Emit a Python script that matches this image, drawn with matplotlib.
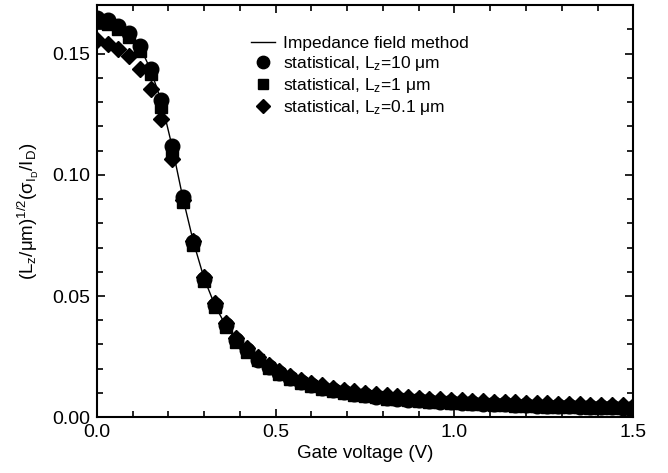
import matplotlib
matplotlib.use("Agg")
import matplotlib.pyplot as plt
from matplotlib.ticker import MultipleLocator

plt.rcParams['font.family'] = ['Liberation Sans', 'DejaVu Sans']
plt.rcParams['mathtext.fontset'] = 'custom'
plt.rcParams['mathtext.rm'] = 'Liberation Sans'
plt.rcParams['mathtext.it'] = 'Liberation Sans'
plt.rcParams['mathtext.sf'] = 'Liberation Sans'

# gate voltage grid (V)
vg = [0.00, 0.03, 0.06, 0.09, 0.12, 0.15, 0.18, 0.21, 0.24, 0.27,
      0.30, 0.33, 0.36, 0.39, 0.42, 0.45, 0.48, 0.51, 0.54, 0.57,
      0.60, 0.63, 0.66, 0.69, 0.72, 0.75, 0.78, 0.81, 0.84, 0.87,
      0.90, 0.93, 0.96, 0.99, 1.02, 1.05, 1.08, 1.11, 1.14, 1.17,
      1.20, 1.23, 1.26, 1.29, 1.32, 1.35, 1.38, 1.41, 1.44, 1.47, 1.50]

# impedance field method
ifm = [0.1645, 0.1636, 0.1614, 0.1583, 0.1530, 0.1435, 0.1305, 0.1120, 0.0908, 0.0723,
       0.0572, 0.0462, 0.0379, 0.0317, 0.0276, 0.0238, 0.0207, 0.0182, 0.0162, 0.0146,
       0.0132, 0.0121, 0.0111, 0.0103, 0.0096, 0.0090, 0.0085, 0.0080, 0.0076, 0.0072,
       0.0069, 0.0066, 0.0064, 0.0062, 0.0060, 0.0058, 0.0056, 0.0054, 0.0053, 0.0051,
       0.0050, 0.0048, 0.0047, 0.0046, 0.0045, 0.0043, 0.0042, 0.0041, 0.0040, 0.0039, 0.0038]

# statistical, Lz = 10 um (circles)
lz10 = [0.1648, 0.1639, 0.1616, 0.1586, 0.1533, 0.1437, 0.1307, 0.1121, 0.0908, 0.0723,
        0.0572, 0.0462, 0.0379, 0.0317, 0.0276, 0.0238, 0.0207, 0.0182, 0.0162, 0.0146,
        0.0132, 0.0121, 0.0111, 0.0103, 0.0096, 0.0090, 0.0085, 0.0080, 0.0076, 0.0072,
        0.0069, 0.0066, 0.0064, 0.0062, 0.0060, 0.0058, 0.0056, 0.0054, 0.0053, 0.0051,
        0.0050, 0.0048, 0.0047, 0.0046, 0.0045, 0.0043, 0.0042, 0.0041, 0.0040, 0.0039, 0.0038]

# statistical, Lz = 1 um (squares)
lz1 = [0.1630, 0.1622, 0.1600, 0.1568, 0.1512, 0.1415, 0.1280, 0.1095, 0.0890, 0.0710,
       0.0562, 0.0455, 0.0372, 0.0312, 0.0271, 0.0234, 0.0204, 0.0179, 0.0159, 0.0143,
       0.0129, 0.0118, 0.0108, 0.0100, 0.0093, 0.0087, 0.0082, 0.0077, 0.0073, 0.0069,
       0.0066, 0.0063, 0.0061, 0.0059, 0.0057, 0.0055, 0.0053, 0.0051, 0.0050, 0.0048,
       0.0047, 0.0045, 0.0044, 0.0043, 0.0042, 0.0040, 0.0039, 0.0038, 0.0037, 0.0036, 0.0035]

# statistical, Lz = 0.1 um (diamonds)
lz01 = [0.1557, 0.1540, 0.1520, 0.1492, 0.1437, 0.1355, 0.1231, 0.1066, 0.0895, 0.0725,
        0.0580, 0.0472, 0.0390, 0.0328, 0.0285, 0.0248, 0.0217, 0.0192, 0.0172, 0.0155,
        0.0142, 0.0131, 0.0121, 0.0113, 0.0106, 0.0100, 0.0095, 0.0090, 0.0086, 0.0082,
        0.0079, 0.0076, 0.0074, 0.0072, 0.0070, 0.0068, 0.0066, 0.0064, 0.0063, 0.0061,
        0.0060, 0.0058, 0.0057, 0.0056, 0.0055, 0.0053, 0.0052, 0.0051, 0.0050, 0.0049, 0.0048]

fig = plt.figure(figsize=(6.68, 4.73), dpi=100)
ax = fig.add_axes([0.145, 0.118, 0.803, 0.871])

ax.plot(vg, ifm, '-', color='black', lw=1.0, label='Impedance field method', zorder=2)
ax.plot(vg, lz1, 's', color='black', ms=9, zorder=3, label='statistical, L$_z$=1 μm')
ax.plot(vg, lz10, 'o', color='black', ms=10.5, zorder=4, label='statistical, L$_z$=10 μm')
ax.plot(vg, lz01, 'D', color='black', ms=8.5, zorder=5, label='statistical, L$_z$=0.1 μm')

ax.set_xlim(0, 1.5)
ax.set_ylim(0, 0.17)
ax.xaxis.set_major_locator(MultipleLocator(0.5))
ax.xaxis.set_minor_locator(MultipleLocator(0.1))
ax.yaxis.set_major_locator(MultipleLocator(0.05))
ax.yaxis.set_minor_locator(MultipleLocator(0.01))
ax.xaxis.set_major_formatter(matplotlib.ticker.FormatStrFormatter('%.1f'))
ax.yaxis.set_major_formatter(matplotlib.ticker.FormatStrFormatter('%.2f'))
ax.tick_params(which='both', direction='in', top=True, right=True, labelsize=14, width=1.2)
ax.tick_params(which='major', length=6, pad=5)
ax.tick_params(which='minor', length=4)
for s in ax.spines.values():
    s.set_linewidth(1.5)

ax.set_xlabel('Gate voltage (V)', fontsize=13.5, labelpad=3)
ax.set_ylabel(r'(L$_z$/$\mu$m)$^{1/2}$($\sigma_{\mathrm{I_D}}$/I$_\mathrm{D}$)', fontsize=13.5, labelpad=8)

handles, labels = ax.get_legend_handles_labels()
order = [0, 2, 1, 3]
leg = ax.legend([handles[i] for i in order], [labels[i] for i in order],
                loc='upper left', bbox_to_anchor=(0.265, 0.955), frameon=False,
                fontsize=12.5, handlelength=1.4, handletextpad=0.45, labelspacing=0.18,
                borderpad=0.2, markerscale=0.85)

fig.savefig('out.png', dpi=100)
